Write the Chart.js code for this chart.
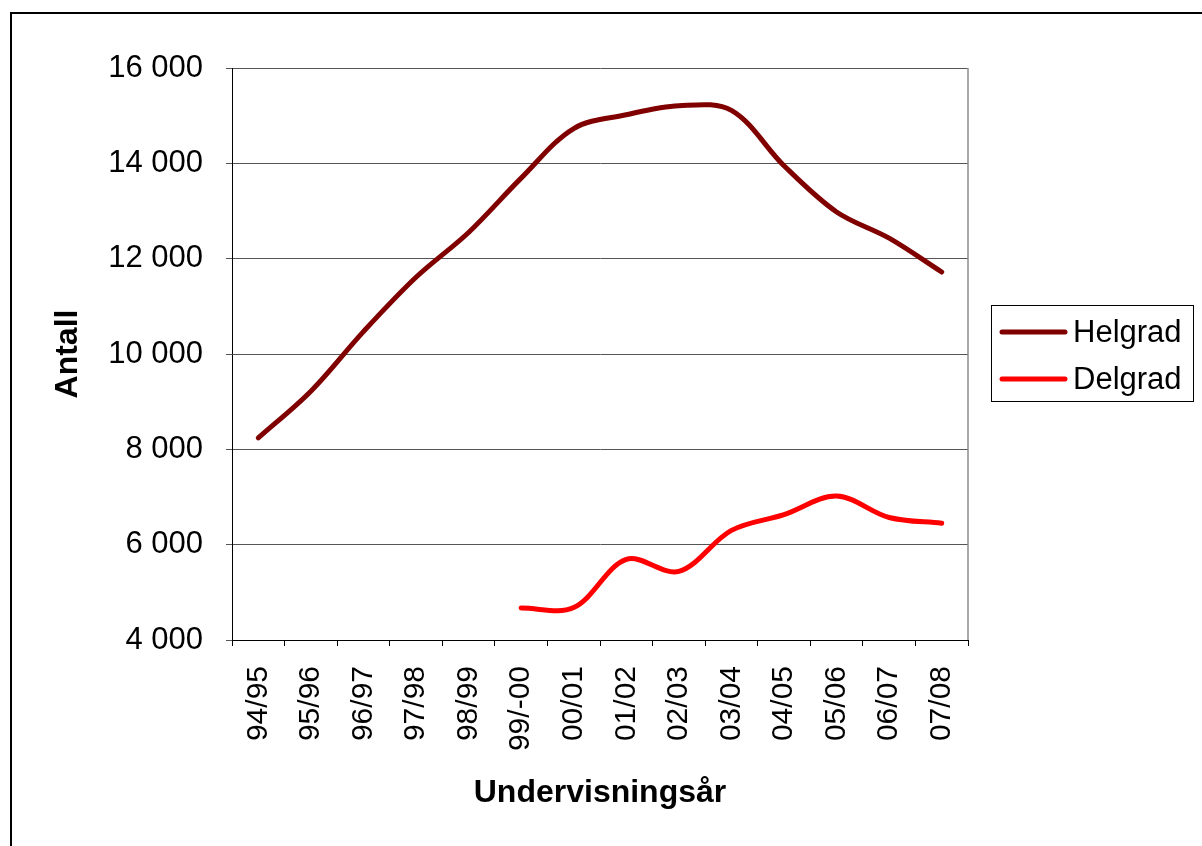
<!DOCTYPE html>
<html>
<head>
<meta charset="utf-8">
<script src="https://cdn.jsdelivr.net/npm/chart.js@4.4.1/dist/chart.umd.min.js"></script>
<style>
  html, body { margin: 0; padding: 0; background: #fff; }
  #wrap { position: relative; width: 1202px; height: 846px; }
</style>
</head>
<body>
<div id="wrap"><canvas id="c" width="1202" height="846"></canvas></div>
<script>
const categories = ['94/95','95/96','96/97','97/98','98/99','99/-00','00/01','01/02','02/03','03/04','04/05','05/06','06/07','07/08'];
const helgrad = [8240, 9220, 10470, 11610, 12550, 13690, 14730, 15020, 15210, 15110, 13950, 12980, 12430, 11720];
const delgrad = [null, null, null, null, null, 4670, 4680, 5690, 5440, 6300, 6630, 7020, 6570, 6450];
const seriesNames = ['Helgrad', 'Delgrad'];
const seriesColors = ['#800000', '#ff0000'];
const yTicks = [4000, 6000, 8000, 10000, 12000, 14000, 16000];
const xTitle = 'Undervisningsår';
const yTitle = 'Antall';

const FONT = '"Liberation Sans", Arial, sans-serif';
const fmt = v => String(v).replace(/\B(?=(\d{3})+(?!\d))/g, ' ');

const frame = {
  id: 'frame',
  beforeDraw(chart) {
    const ctx = chart.ctx;
    ctx.save();
    ctx.strokeStyle = '#000';
    ctx.lineWidth = 2;
    ctx.strokeRect(11, 13, 1300, 1000);
    ctx.restore();
  },
  afterDraw(chart) {
    const ctx = chart.ctx;
    const a = chart.chartArea;
    ctx.save();
    ctx.strokeStyle = '#8c8c8c';
    ctx.lineWidth = 1.5;
    ctx.beginPath();
    ctx.moveTo(a.right, a.top);
    ctx.lineTo(a.right, a.bottom);
    ctx.stroke();
    // legend
    const lx = 991.5, ly = 305.5, lw = 202, lh = 96;
    ctx.fillStyle = '#fff';
    ctx.fillRect(lx, ly, lw, lh);
    ctx.strokeStyle = '#000';
    ctx.lineWidth = 1;
    ctx.strokeRect(lx, ly, lw, lh);
    ctx.font = '31px ' + FONT;
    ctx.textBaseline = 'middle';
    ctx.textAlign = 'left';
    const rows = [332, 379];
    chart.data.datasets.forEach((ds, i) => {
      ctx.strokeStyle = ds.borderColor;
      ctx.lineWidth = 5;
      ctx.lineCap = 'round';
      ctx.beginPath();
      ctx.moveTo(1002, rows[i]);
      ctx.lineTo(1065, rows[i]);
      ctx.stroke();
      ctx.fillStyle = '#000';
      ctx.fillText(ds.label, 1073, rows[i] + 1);
    });
    ctx.restore();
  }
};

new Chart(document.getElementById('c'), {
  type: 'line',
  data: {
    labels: categories,
    datasets: [
      { label: seriesNames[0], data: helgrad, borderColor: seriesColors[0], backgroundColor: seriesColors[0],
        borderWidth: 5, pointRadius: 0, tension: 0.34, borderCapStyle: 'round', borderJoinStyle: 'round' },
      { label: seriesNames[1], data: delgrad, borderColor: seriesColors[1], backgroundColor: seriesColors[1],
        borderWidth: 5, pointRadius: 0, tension: 0.34, borderCapStyle: 'round', borderJoinStyle: 'round' }
    ]
  },
  options: {
    responsive: false,
    animation: false,
    devicePixelRatio: 1,
    layout: { padding: { left: 10, right: 234, top: 68, bottom: 0 } },
    plugins: { legend: { display: false }, tooltip: { enabled: false } },
    scales: {
      x: {
        type: 'category',
        offset: true,
        afterFit: s => { s.height = 846 - 640; },
        grid: { offset: true, drawOnChartArea: false, drawTicks: true, tickLength: 6, color: '#000' },
        border: { display: true, color: '#000', width: 1 },
        ticks: { minRotation: 90, maxRotation: 90, autoSkip: false, padding: 20, color: '#000',
                 font: { family: FONT, size: 30 } },
        title: { display: true, text: xTitle, color: '#000', padding: { top: 0, bottom: 34 },
                 font: { family: FONT, size: 32, weight: 'bold' } }
      },
      y: {
        min: 4000, max: 16000,
        afterFit: s => { s.width = 232 - 10; },
        afterBuildTicks: s => { s.ticks = yTicks.map(v => ({ value: v })); },
        grid: { color: '#555', lineWidth: 1, tickLength: 6, drawTicks: true },
        border: { display: true, color: '#000', width: 1 },
        ticks: { padding: 23, color: '#000', font: { family: FONT, size: 31 }, callback: v => fmt(v) },
        title: { display: true, text: yTitle, color: '#000', padding: { top: 39, bottom: 0 },
                 font: { family: FONT, size: 32, weight: 'bold' } }
      }
    }
  },
  plugins: [frame]
});
</script>
</body>
</html>
